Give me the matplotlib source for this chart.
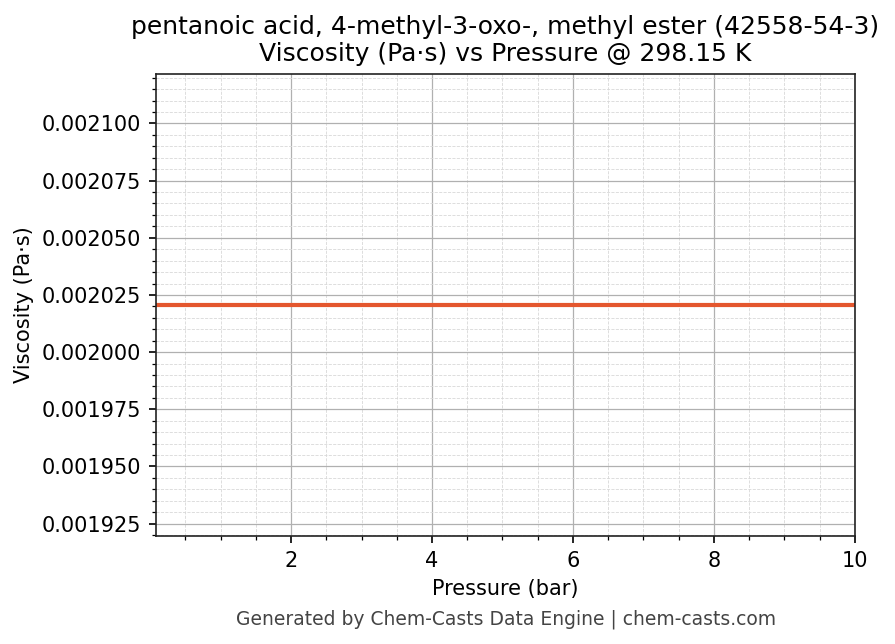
import matplotlib
matplotlib.use('Agg')
import matplotlib.pyplot as plt
from matplotlib.ticker import AutoMinorLocator

# data
pressure_bar = [0.085, 1.0, 2.0, 4.0, 6.0, 8.0, 10.0]
viscosity_pa_s = [0.0020206, 0.0020206, 0.0020206, 0.0020206, 0.0020206, 0.0020206, 0.0020206]

title = 'pentanoic acid, 4-methyl-3-oxo-, methyl ester (42558-54-3)\nViscosity (Pa·s) vs Pressure @ 298.15 K'
footer = 'Generated by Chem-Casts Data Engine | chem-casts.com'

fig = plt.figure(figsize=(895 / 150, 644 / 150), dpi=150)
ax = fig.add_axes([0.1743, 0.1677, 0.781, 0.7174])

ax.plot(pressure_bar, viscosity_pa_s, color='#E4572E', linewidth=2)
ax.set_xlim(min(pressure_bar), max(pressure_bar))
# flat series: limits at +-5% of the value
ax.set_ylim(min(viscosity_pa_s) * 0.95, max(viscosity_pa_s) * 1.05)

ax.set_title(title, fontsize=12)
ax.set_xlabel('Pressure (bar)', fontsize=10)
ax.set_ylabel('Viscosity (Pa·s)', fontsize=10)
ax.tick_params(labelsize=10)

ax.xaxis.set_minor_locator(AutoMinorLocator())
ax.yaxis.set_minor_locator(AutoMinorLocator())
ax.grid(True, which='major', color='#b0b0b0', linewidth=0.6)
ax.grid(True, which='minor', color='#d8d8d8', linestyle='--', linewidth=0.4)
ax.yaxis.set_major_formatter(plt.FormatStrFormatter('%.6f'))
for s in ax.spines.values():
    s.set_color('#222222')

fig.text(0.565, 0.039, footer, ha='center', va='center', fontsize=9, color='#444444')

fig.savefig('out.png', dpi=150)
